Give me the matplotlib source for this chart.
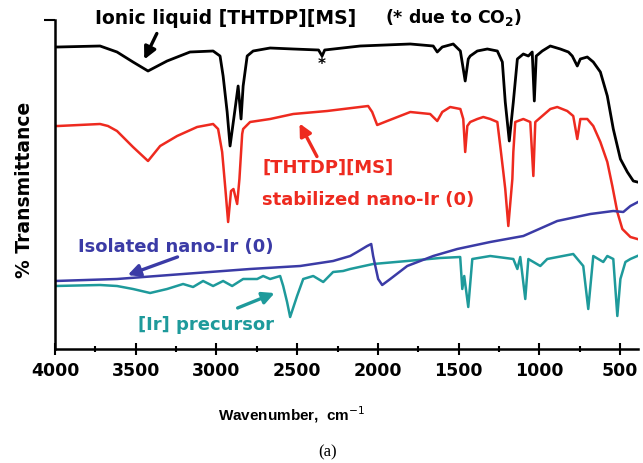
import matplotlib
matplotlib.use("Agg")
import matplotlib.pyplot as plt
from matplotlib import font_manager
from matplotlib.ticker import MultipleLocator

plt.rcParams['font.family'] = ['DejaVu Sans']
plt.rcParams['mathtext.fontset'] = 'dejavusans'

# Spectra (wavenumber in cm-1, transmittance in arbitrary units)
il_wn = [4000, 3981, 3721, 3616, 3517, 3424, 3306, 3164, 3021, 2978, 2959, 2934, 2916, 2885, 2866,
         2848, 2835, 2810, 2773, 2668, 2525, 2368, 2346, 2330, 2110, 1800, 1658, 1633, 1602, 1534,
         1490, 1460, 1441, 1429, 1385, 1323, 1261, 1230, 1212, 1187, 1162, 1137, 1100, 1069, 1045,
         1032, 1020, 983, 933, 871, 821, 797, 766, 747, 704, 667, 623, 580, 543, 499, 456, 419, 394]
il_T = [302, 302, 303, 297, 287, 278, 288, 297, 298, 293, 273, 237, 203, 240, 263,
        230, 263, 293, 298, 301, 300, 299, 293, 299, 303, 305, 303, 297, 302, 305,
        298, 268, 290, 293, 298, 300, 298, 287, 247, 208, 247, 290, 295, 293, 297,
        248, 293, 298, 303, 300, 297, 293, 283, 290, 292, 287, 277, 253, 220, 190, 177, 168, 167]

stab_wn = [4000, 3981, 3721, 3672, 3616, 3517, 3424, 3349, 3244, 3120, 3021, 2990, 2965, 2945, 2928,
           2910, 2895, 2872, 2858, 2841, 2835, 2792, 2668, 2525, 2315, 2061, 2036, 2005, 1943, 1800,
           1677, 1633, 1602, 1553, 1490, 1472, 1460, 1447, 1429, 1385, 1348, 1305, 1261, 1243, 1224,
           1212, 1193, 1168, 1162, 1150, 1100, 1057, 1038, 1026, 983, 933, 890, 828, 791, 766,
           747, 704, 667, 623, 580, 549, 518, 487, 437, 394]
stab_T = [223, 223, 225, 223, 218, 202, 188, 203, 213, 222, 225, 220, 197, 160, 127,
          158, 160, 145, 170, 215, 220, 227, 230, 235, 238, 243, 237, 224, 228, 237,
          235, 228, 237, 242, 240, 230, 197, 223, 227, 230, 232, 230, 227, 203, 177,
          160, 123, 170, 197, 227, 230, 227, 173, 227, 233, 240, 242, 238, 233, 210,
          230, 230, 223, 207, 187, 163, 137, 120, 112, 110]

iso_wn = [4000, 3616, 3207, 2792, 2482, 2278, 2172, 2129, 2067, 2042, 2030, 1999, 1974, 1924, 1819,
          1658, 1509, 1305, 1100, 890, 685, 543, 481, 437, 390]
iso_T = [68, 70, 75, 80, 83, 88, 93, 97, 103, 105, 93, 70, 64, 70, 83,
         93, 100, 107, 113, 128, 135, 138, 137, 143, 147]

pre_wn = [4000, 3721, 3616, 3517, 3411, 3306, 3207, 3145, 3083, 3021, 2959, 2903, 2835, 2748, 2711,
          2668, 2606, 2587, 2563, 2544, 2501, 2463, 2401, 2339, 2278, 2216, 2172, 2030, 1819, 1615,
          1491, 1478, 1466, 1441, 1416, 1305, 1162, 1137, 1119, 1088, 1069, 995, 952, 791, 729,
          698, 667, 605, 580, 543, 518, 499, 468, 437, 394]
pre_T = [63, 64, 63, 60, 56, 60, 65, 62, 68, 63, 68, 63, 70, 70, 73,
         70, 73, 63, 47, 32, 53, 70, 73, 67, 77, 78, 80, 85, 88, 91,
         92, 60, 73, 42, 90, 93, 90, 80, 92, 50, 90, 83, 90, 95, 83,
         40, 93, 87, 93, 90, 33, 70, 87, 90, 93]

xticks = [4000, 3500, 3000, 2500, 2000, 1500, 1000, 500]

c_black = "black"
c_red = "#ee2a1f"
c_blue = "#3b3ba6"
c_teal = "#1e9a9b"

# the x label in the original is set in a condensed face
names = {f.name for f in font_manager.fontManager.ttflist}
if 'Liberation Sans Narrow' in names:
    xl_family, xl_size = 'Liberation Sans Narrow', 12
else:
    xl_family, xl_size = 'Liberation Sans', 11

fig = plt.figure(figsize=(6.43, 4.64), dpi=100)
ax = fig.add_axes([55/643, 1 - 350/464, (638 - 55)/643, (350 - 21)/464])

ax.plot(il_wn, il_T, color=c_black, lw=2.0)
ax.plot(stab_wn, stab_T, color=c_red, lw=1.8)
ax.plot(pre_wn, pre_T, color=c_teal, lw=1.8)
ax.plot(iso_wn, iso_T, color=c_blue, lw=1.8)

ax.set_xlim(4000, 390)
ax.set_ylim(0, 329)
ax.set_xticks(xticks)
ax.xaxis.set_minor_locator(MultipleLocator(250))
ax.set_yticks([329])
ax.set_yticklabels([])
ax.tick_params(axis='x', which='major', direction='inout', length=8, width=1.5,
               labelsize=12.5, pad=5)
ax.tick_params(axis='x', which='minor', direction='inout', length=5, width=1.5)
ax.tick_params(axis='y', direction='out', length=8, width=1.5)
for lab in ax.get_xticklabels():
    lab.set_fontweight('bold')
for side in ['top', 'right']:
    ax.spines[side].set_visible(False)
for side in ['left', 'bottom']:
    ax.spines[side].set_linewidth(1.8)

# labels and annotations
fs = 13
ax.text(3752, 332, "Ionic liquid [THTDP][MS]", fontsize=13.5, fontweight='bold',
        ha='left', va='center', clip_on=False)
ax.text(1955, 332, "(* due to CO$_\\mathbf{2}$)", fontsize=12.5, fontweight='bold',
        ha='left', va='center', clip_on=False)
ax.text(2346, 285, "*", fontsize=11, fontweight='bold', ha='center', va='center')
ax.annotate("", xy=(3455, 287), xytext=(3362, 318),
            arrowprops=dict(arrowstyle='-|>', lw=2.4, color=c_black, mutation_scale=18))

ax.text(2717, 182, "[THTDP][MS]", fontsize=fs, fontweight='bold', color=c_red,
        ha='left', va='center')
ax.text(2717, 150, "stabilized nano-Ir (0)", fontsize=fs, fontweight='bold', color=c_red,
        ha='left', va='center')
ax.annotate("", xy=(2494, 228), xytext=(2370, 190),
            arrowprops=dict(arrowstyle='-|>', lw=2.4, color=c_red, mutation_scale=18))

ax.text(3857, 103, "Isolated nano-Ir (0)", fontsize=fs, fontweight='bold', color=c_blue,
        ha='left', va='center')
ax.annotate("", xy=(3566, 73), xytext=(3225, 93),
            arrowprops=dict(arrowstyle='-|>', lw=2.4, color=c_blue, mutation_scale=18))

ax.text(3486, 25, "[Ir] precursor", fontsize=fs, fontweight='bold', color=c_teal,
        ha='left', va='center')
ax.annotate("", xy=(2624, 57), xytext=(2885, 40),
            arrowprops=dict(arrowstyle='-|>', lw=2.4, color=c_teal, mutation_scale=18))

fig.text(25/643, 1 - 190/464, "% Transmittance", rotation=90, fontsize=13.5,
         fontweight='bold', ha='center', va='center')
fig.text(292/643, 1 - 415/464, "Wavenumber,  cm$^{-1}$", fontsize=xl_size,
         family=xl_family, fontweight='bold', ha='center', va='center')
fig.text(328/643, 1 - 452/464, "(a)", fontsize=12, family='Liberation Serif',
         ha='center', va='center')

fig.savefig("out.png", dpi=100)
